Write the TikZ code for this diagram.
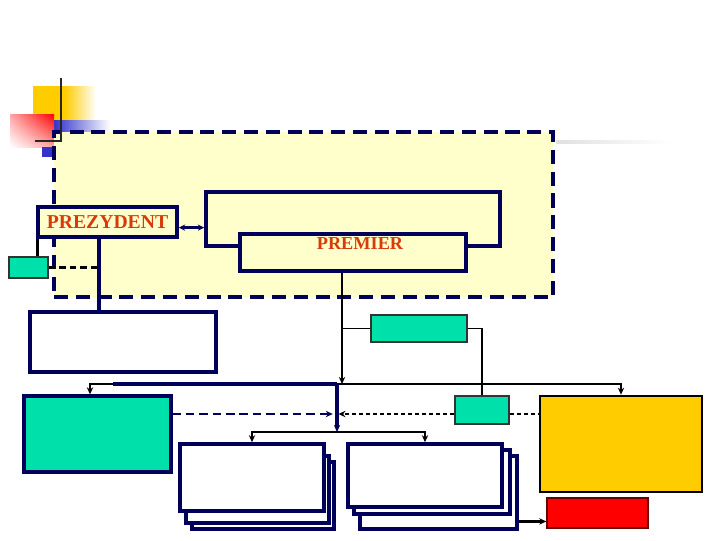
\documentclass[tikz,border=0pt]{standalone}
\usepackage{fontspec}
\setmainfont{Liberation Serif}
\usepackage{tikz}
\usetikzlibrary{arrows.meta, fit, calc, shadings}

\definecolor{navy}{RGB}{0,0,90}
\definecolor{mint}{RGB}{0,224,170}
\definecolor{cream}{RGB}{255,255,204}
\definecolor{gold}{RGB}{255,204,0}
\definecolor{rust}{RGB}{214,60,10}
\definecolor{royal}{RGB}{51,51,204}

\begin{document}
\begin{tikzpicture}[
        x=0.025cm, y=-0.025cm, % one unit = one pixel of the slide
        % styles
        region/.style={rectangle, inner sep=0pt, draw=navy, line width=2.4pt, dash pattern=on 10pt off 5.5pt, fill=cream},
        organ/.style={rectangle, inner sep=0pt, draw=navy, line width=2.6pt, fill=white},
        title/.style={font=\fontsize{14}{16}\selectfont\bfseries, text=rust},
        mintbox/.style={rectangle, inner sep=0pt, draw=black!80, line width=0.9pt, fill=mint},
        goldbox/.style={rectangle, inner sep=0pt, draw=black, line width=1.9pt, fill=gold},
        redbox/.style={rectangle, inner sep=0pt, draw=black!60!red, line width=1pt, fill=red},
        link/.style={draw=black, line width=1pt},
        navylink/.style={draw=navy, line width=2.2pt},
        arrow/.style={-{Stealth[length=5pt,width=4.5pt]}} ]

    \useasboundingbox (0,0) rectangle (720,540);

    % --- slide decoration ---
    \shade[left color=gold, right color=white, middle color=gold] (33,86) rectangle (96,120);
    \shade[left color=royal, right color=white] (54,120) rectangle (110,132);
    \shade[upper right=red, upper left=red!35, lower right=red!35, lower left=white] (10,114) rectangle (54,147);
    \fill[royal] (42,147) rectangle (54,157);
    \shade[left color=black!12, right color=white] (556,140) rectangle (672,143);

    % --- top panel ---
    \node (panel) [region, fit={(54,132) (553,297)}] {};
    \draw[black!85, line width=2pt] (61,78) -- (61,142);
    \draw[black!85, line width=2pt] (35,141) -- (61,141);

    \node (prez) [organ, fill=cream, fit={(38,207) (177,237)}, label={[title]center:PREZYDENT}] {};
    \node (rzad) [organ, fill=none, fit={(206,192) (500,246)}] {};
    \node (prem) [organ, fill=cream, fit={(240,234) (466,271)},
        label={[title, font=\fontsize{13}{15}\selectfont\bfseries, anchor=north, inner sep=0pt, xshift=5pt, yshift=-3.5pt]north:PREMIER}] {};
    \node (rbn)  [mintbox, fit={(9,257) (48,278)}] {};

    % --- lower boxes ---
    \node (kancelaria)  [organ, fit={(30,312) (216,372)}] {};
    \node (komitet)     [mintbox, fit={(371,315) (467,342)}] {};
    \node (ministrowie) [mintbox, line width=2.4pt, draw=navy, fit={(24,396) (171,472)}] {};
    \node (wojewoda)    [mintbox, fit={(455,396) (509,424)}] {};
    \node (samorzad)    [goldbox, fit={(540,396) (702,492)}] {};
    \node (rio)         [redbox, fit={(547,498) (648,528)}] {};

    % stacked offices
    \node (urz1c) [organ, fit={(192,462) (334,529)}] {};
    \node (urz1b) [organ, fit={(186,456) (329,523)}] {};
    \node (urz1a) [organ, fit={(180,444) (324,511)}] {};
    \node (urz2c) [organ, fit={(360,456) (517,529)}] {};
    \node (urz2b) [organ, fit={(354,450) (510,514)}] {};
    \node (urz2a) [organ, fit={(348,444) (502,507)}] {};

    % --- helper points ---
    \coordinate (pion)   at (99,0);
    \coordinate (pv)     at (342,0);
    \coordinate (szyna)  at (337,384);
    \coordinate (busL)   at (90,384);
    \coordinate (busM)   at (113,384);
    \coordinate (rozdz)  at (337,432);
    \coordinate (poziom) at (0,414);

    % --- CONNECTIONS ---
    % president side
    \draw [navylink, {Stealth[length=4.5pt,width=4.5pt]}-{Stealth[length=4.5pt,width=4.5pt]}] ([yshift=-4pt]prez.east) -- ([yshift=-4pt]prez.east -| rzad.west);
    \draw [link, line width=1.8pt] ([xshift=1pt]prez.south west) -- ([xshift=1pt]prez.south west |- rbn.north);
    \draw [navylink] (prez.south -| pion) -- (kancelaria.north -| pion);
    \draw [link, line width=1.8pt, dash pattern=on 4.5pt off 3pt] (rbn.east) -- (rbn.east -| pion);

    % premier down to the bus
    \draw [link, line width=2pt, arrow] (prem.south -| pv) -- (pv |- szyna);
    \draw [link] (pv |- komitet.west) -- (komitet.west);
    \draw [link] (komitet.east) -| (wojewoda.north);

    % bus
    \draw [navylink] (szyna) -- (busM);
    \draw [link, line width=1.5pt, arrow] (busM) -- (busL) -- (busL |- ministrowie.north);
    \draw [link, arrow] (szyna) -| (samorzad.north);
    \draw [navylink, arrow] (szyna) -- (rozdz);
    \draw [link, arrow] (rozdz) -| (urz1a.north);
    \draw [link, arrow] (rozdz) -| (urz2a.north);

    % dashed links
    \draw [navylink, line width=2pt, dash pattern=on 6pt off 3.5pt, arrow, shorten >=3pt] (ministrowie.east |- poziom) -- (szyna |- poziom);
    \draw [link, line width=1.8pt, dash pattern=on 3pt off 2pt, arrow, shorten >=1pt] (wojewoda.west |- poziom) -- (szyna |- poziom);
    \draw [link, line width=1.8pt, dash pattern=on 3pt off 2pt] (wojewoda.east |- poziom) -- (samorzad.west |- poziom);

    % offices to the red box
    \draw [link, line width=2pt, arrow] ([yshift=-6pt]rio.west -| urz2c.east) -- ([yshift=-6pt]rio.west);

\end{tikzpicture}
\end{document}
